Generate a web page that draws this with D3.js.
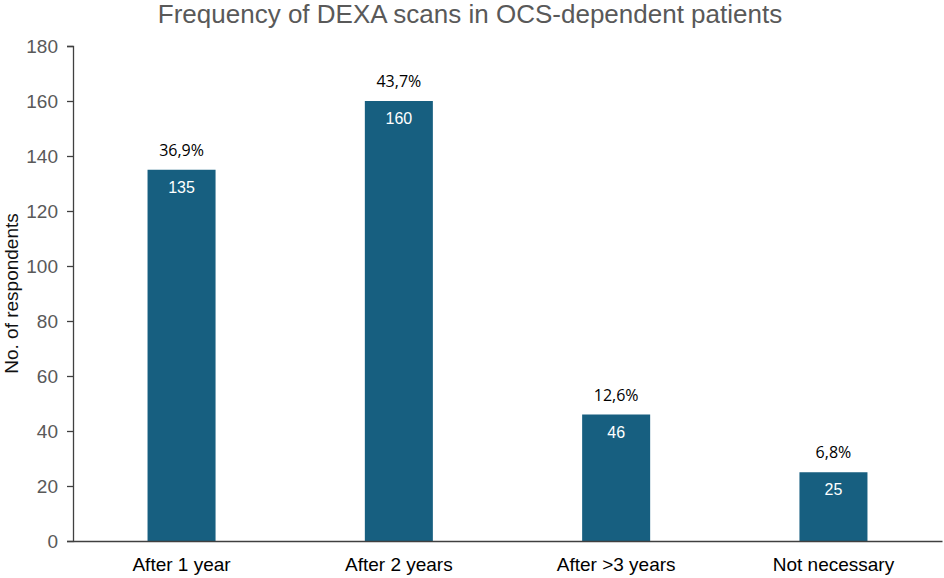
<!DOCTYPE html>
<html>
<head>
<meta charset="utf-8">
<script src="https://cdn.jsdelivr.net/npm/d3@7"></script>
<style>
  body { margin: 0; background: #fff; }
</style>
</head>
<body>
<svg id="chart"></svg>
<script>
const categories = ["After 1 year", "After 2 years", "After >3 years", "Not necessary"];
const counts = [135, 160, 46, 25];
const percents = ["36,9%", "43,7%", "12,6%", "6,8%"];
const yTicks = [0, 20, 40, 60, 80, 100, 120, 140, 160, 180];

var margin = { top: 46, right: 2, bottom: 37, left: 73 },
  width = 944 - margin.left - margin.right,
  height = 578 - margin.top - margin.bottom;

var svg = d3.select("#chart")
  .attr("width", width + margin.left + margin.right)
  .attr("height", height + margin.top + margin.bottom)
  .append("g")
  .attr("transform", "translate(" + margin.left + "," + margin.top + ")");

const x = d3.scaleBand()
  .domain(categories)
  .range([0, width])
  .paddingInner(0.687)
  .paddingOuter(0.343);

const y = d3.scaleLinear()
  .domain([0, 180])
  .range([height, 0]);

// title
svg.append("text")
  .attr("x", 470 - margin.left)
  .attr("y", 23 - margin.top)
  .attr("text-anchor", "middle")
  .style("font-family", "Liberation Sans, Arial, sans-serif")
  .style("font-size", "26px")
  .style("fill", "#595959")
  .text("Frequency of DEXA scans in OCS-dependent patients");

// Y axis
const yAxis = svg.append("g")
  .call(d3.axisLeft(y).tickValues(yTicks).tickSize(6).tickPadding(9));
yAxis.select(".domain").attr("stroke", "#404040").attr("stroke-width", 1.3);
yAxis.selectAll(".tick line").attr("stroke", "#404040").attr("stroke-width", 1.3);
yAxis.selectAll("text")
  .style("font-family", "Liberation Sans, Arial, sans-serif")
  .style("font-size", "19px")
  .style("fill", "#595959");

svg.append("text")
  .attr("transform", "rotate(-90)")
  .attr("x", -(y(90)))
  .attr("y", -55)
  .attr("text-anchor", "middle")
  .style("font-family", "Liberation Sans, Arial, sans-serif")
  .style("font-size", "19px")
  .style("fill", "#111")
  .text("No. of respondents");

// bars
svg.selectAll(".bar")
  .data(counts)
  .join("rect")
  .attr("class", "bar")
  .attr("x", function (d, i) { return x(categories[i]); })
  .attr("y", function (d) { return y(d); })
  .attr("width", x.bandwidth())
  .attr("height", function (d) { return height - y(d); })
  .style("fill", "#175f80");

// X axis
const xAxis = svg.append("g")
  .attr("transform", `translate(0, ${height})`)
  .call(d3.axisBottom(x).tickSize(0).tickPadding(17));
xAxis.select(".domain").attr("stroke", "#404040").attr("stroke-width", 1.3);
xAxis.selectAll("text")
  .style("font-family", "Liberation Sans, Arial, sans-serif")
  .style("font-size", "19px")
  .style("fill", "#000");

// value labels inside bars
svg.selectAll(".val")
  .data(counts)
  .join("text")
  .attr("class", "val")
  .attr("x", function (d, i) { return x(categories[i]) + x.bandwidth() / 2; })
  .attr("y", function (d) { return y(d) + 23; })
  .attr("text-anchor", "middle")
  .style("font-family", "Liberation Sans, Arial, sans-serif")
  .style("font-size", "16px")
  .style("fill", "#fff")
  .text(function (d) { return d; });

// percent labels above bars
svg.selectAll(".pct")
  .data(counts)
  .join("text")
  .attr("class", "pct")
  .attr("x", function (d, i) { return x(categories[i]) + x.bandwidth() / 2; })
  .attr("y", function (d) { return y(d) - 14; })
  .attr("text-anchor", "middle")
  .style("font-family", "Open Sans, Noto Sans, sans-serif")
  .style("font-size", "16px")
  .style("fill", "#000")
  .text(function (d, i) { return percents[i]; });
</script>
</body>
</html>
